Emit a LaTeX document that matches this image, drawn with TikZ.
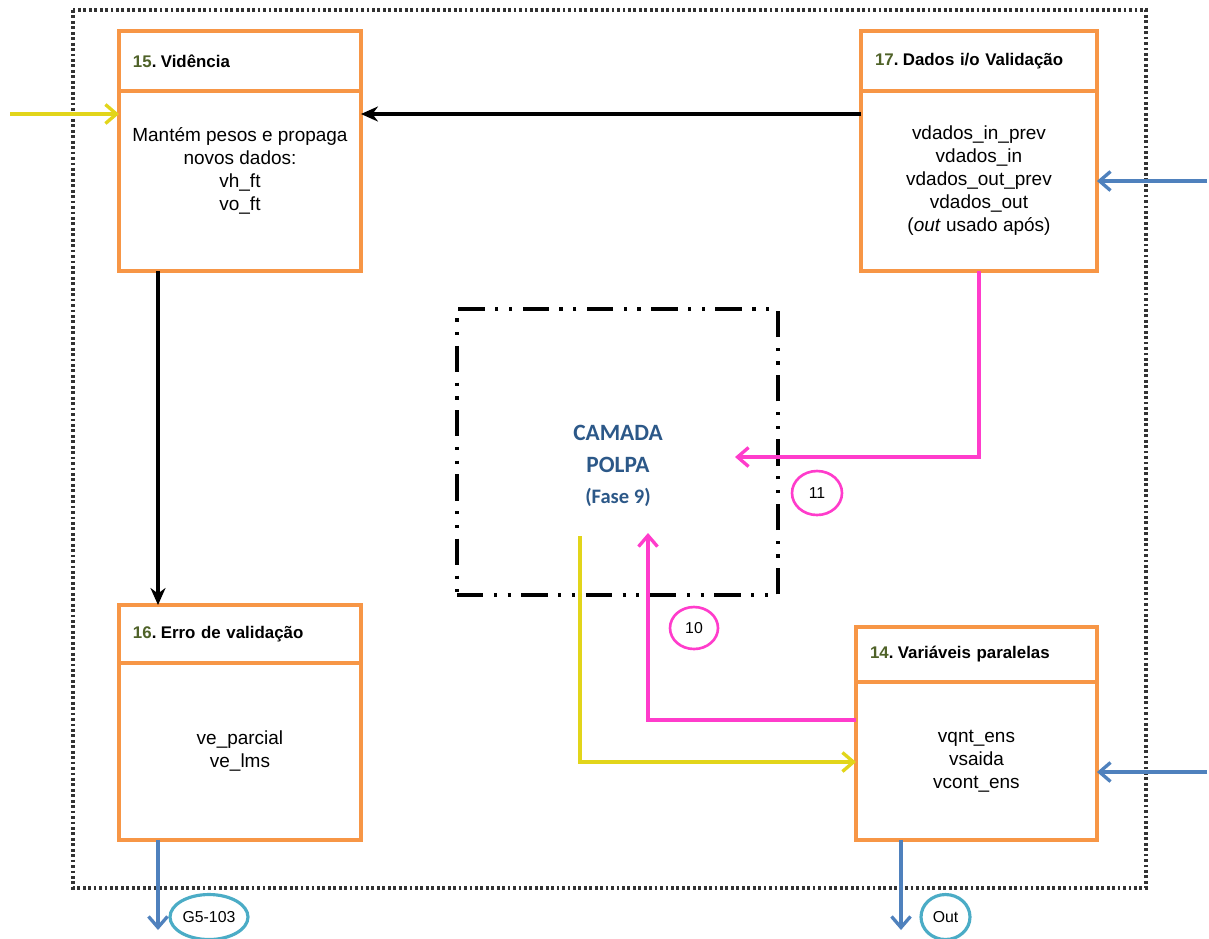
\documentclass[tikz,border=0pt]{standalone}
\usepackage{fontspec}
\setmainfont{Liberation Sans}
\newfontfamily\calibrifont{Carlito}
\usetikzlibrary{arrows.meta, positioning, shapes.geometric}
\definecolor{polpaorange}{HTML}{F79646}
\definecolor{polpapink}{HTML}{FF3CCB}
\definecolor{polpayellow}{HTML}{E2D51A}
\definecolor{polpablue}{HTML}{4F81BD}
\definecolor{polpateal}{HTML}{4BACC6}
\definecolor{polpanavy}{HTML}{2C5888}
\definecolor{polpaolive}{HTML}{4F6228}
\tikzset{
  hdr/.style={rectangle, draw=polpaorange, line width=2pt, fill=white, outer sep=0pt,
              align=left, inner xsep=0.28cm, font=\fontsize{9.6}{11}\selectfont\bfseries},
  body/.style={rectangle, draw=polpaorange, line width=2pt, fill=white, outer sep=0pt,
               align=center, font=\fontsize{10.8}{13.1}\selectfont},
  polpa/.style={rectangle, draw=black, line width=1.8pt,
                dash pattern=on 15pt off 6pt on 1.8pt off 6pt on 1.8pt off 6pt},
  polpatxt/.style={align=center, text=polpanavy, font=\calibrifont\bfseries\fontsize{13.3}{18}\selectfont},
  frame/.style={draw=black!80, line width=1.8pt, dash pattern=on 1.6pt off 1.5pt},
  tag/.style={ellipse, draw=polpapink, line width=1.5pt, inner sep=0pt,
              minimum width=1cm, minimum height=0.88cm, font=\fontsize{9}{10}\selectfont},
  port/.style={ellipse, draw=polpateal, line width=1.8pt, inner sep=0pt,
               minimum height=0.9cm, font=\fontsize{9}{10}\selectfont},
  flowk/.style={-{Stealth[length=3.4mm, width=3mm]}, line width=2pt, draw=black},
  flowy/.style={-{Straight Barb[length=2.2mm, width=3.8mm]}, line width=1.9pt, draw=polpayellow},
  flowp/.style={-{Straight Barb[length=2.2mm, width=3.8mm]}, line width=1.9pt, draw=polpapink},
  flowb/.style={-{Straight Barb[length=2.2mm, width=3.8mm]}, line width=1.9pt, draw=polpablue},
}
\newcommand{\stepno}[1]{\textcolor{polpaolive}{#1}.\kern2.5pt}

\begin{document}
\begin{tikzpicture}[x=0.02cm, y=-0.02cm]
  \useasboundingbox (0,0) rectangle (1209,938);
  \draw[frame] (73,10) rectangle (1146,888);
  \node[polpa, minimum width=6.42cm, minimum height=5.72cm] (polpa) at (617.5,452) {};
  \node[polpatxt] (camada) at (618,466) {CAMADA\\POLPA\\{\fontsize{11.7}{14}\selectfont (Fase 9)}};
  \node[hdr, text width=4.28cm, minimum height=1.2cm, anchor=north west] (h15) at (119,31) {\stepno{15}Vidência};
  \node[body, below=0pt of h15, minimum width=4.84cm, minimum height=3.6cm] (b15) {Mantém pesos e propaga\\novos dados:\\vh\_ft\\vo\_ft\\ \mbox{}};
  \node[hdr, text width=4.16cm, minimum height=1.2cm, anchor=north west] (h17) at (861,31) {\stepno{17}Dados i/o Validação};
  \node[body, below=0pt of h17, minimum width=4.72cm, minimum height=3.6cm] (b17) {vdados\_in\_prev\\vdados\_in\\vdados\_out\_prev\\vdados\_out\\(\textit{out} usado após)};
  \node[hdr, text width=4.28cm, minimum height=1.16cm, anchor=north west] (h16) at (119,605) {\stepno{16}Erro de validação};
  \node[body, below=0pt of h16, minimum width=4.84cm, minimum height=3.54cm] (b16) {ve\_parcial\\ve\_lms};
  \node[hdr, text width=4.26cm, minimum height=1.1cm, anchor=north west] (h14) at (856,627) {\stepno{14}Variáveis paralelas};
  \node[body, below=0pt of h14, minimum width=4.82cm, minimum height=3.16cm] (b14) {vqnt\_ens\\vsaida\\vcont\_ens};
  \node[tag] (t11) at (817,493) {11};
  \node[tag, minimum width=0.96cm, minimum height=0.84cm] (t10) at (694,628) {10};
  \node[port, minimum width=1.56cm] (g5) at (209,917) {G5-103};
  \node[port, minimum width=0.98cm] (out) at (945.5,917) {Out};
  \coordinate (in15) at (10,114);
  \coordinate (in17) at (1207,181);
  \coordinate (in14) at (1207,772);
  \coordinate (o16) at (158,930);
  \coordinate (o14) at (901,930);
  \coordinate (p11) at (735,457);
  \coordinate (p10) at (648,533);
  \coordinate (y9) at (580,536);
  \draw[flowy] (in15) -- (in15 -| b15.west);
  \draw[flowk] (b17.west |- 0,114) -- (b15.east |- 0,114);
  \draw[flowb] (in17) -- (in17 -| b17.east);
  \draw[flowk] (b15.south -| 158,0) -- (h16.north -| 158,0);
  \draw[flowp] (b17.south) |- (p11);
  \draw[flowp] (b14.west |- 0,720) -| (p10);
  \draw[flowy] (y9) |- (b14.west |- 0,762);
  \draw[flowb] (in14) -- (in14 -| b14.east);
  \draw[flowb] (b16.south -| 158,0) -- (o16);
  \draw[flowb] (b14.south -| 901,0) -- (o14);
\end{tikzpicture}
\end{document}
